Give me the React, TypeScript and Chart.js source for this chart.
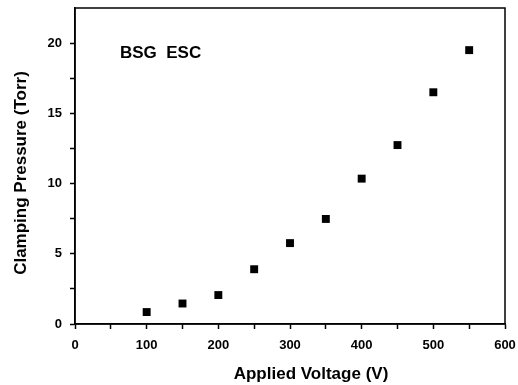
import React, { useEffect, useRef } from "react";
import { Chart, registerables } from "chart.js";

Chart.register(...registerables);

const voltages = [100, 150, 200, 250, 300, 350, 400, 450, 500, 550];
const pressures = [0.85, 1.46, 2.06, 3.9, 5.76, 7.48, 10.35, 12.74, 16.5, 19.5];
const xTickValues = [0, 50, 100, 150, 200, 250, 300, 350, 400, 450, 500, 550, 600];
const yTickValues = [0, 2.5, 5, 7.5, 10, 12.5, 15, 17.5, 20];
const annotation = "BSG  ESC";
const xTitle = "Applied Voltage (V)";
const yTitle = "Clamping Pressure (Torr)";

const FONT = "'Liberation Sans', Arial, sans-serif";

function zeroPad(scale: any) {
  scale.paddingLeft = 0;
  scale.paddingRight = 0;
  scale.paddingTop = 0;
  scale.paddingBottom = 0;
}

export default function App() {
  const ref = useRef<HTMLCanvasElement | null>(null);
  useEffect(() => {
    document.body.style.margin = "0";
    const canvas = ref.current;
    if (!canvas) return;
    const framePlugin = {
      id: "frame",
      afterDraw(chart: any) {
        const { ctx, chartArea } = chart;
        const { left, right, top, bottom } = chartArea;
        ctx.save();
        ctx.strokeStyle = "#000";
        ctx.lineWidth = 1.5;
        ctx.strokeRect(left, top, right - left, bottom - top);
        ctx.fillStyle = "#000";
        ctx.font = `bold 17px ${FONT}`;
        ctx.textBaseline = "middle";
        ctx.textAlign = "left";
        ctx.fillText(annotation, left + 45, top + 45);
        ctx.textAlign = "center";
        ctx.fillText(xTitle, (left + right) / 2 + 21, bottom + 50);
        ctx.translate(21, (top + bottom) / 2 + 7);
        ctx.rotate(-Math.PI / 2);
        ctx.fillText(yTitle, 0, 0);
        ctx.restore();
      },
    };
    const chart = new Chart(canvas, {
      type: "scatter",
      data: {
        datasets: [
          {
            data: voltages.map((v, i) => ({ x: v, y: pressures[i] })),
            pointStyle: "rect",
            pointRadius: 5.6,
            backgroundColor: "#000",
            borderColor: "#000",
            borderWidth: 0,
          },
        ],
      },
      options: {
        animation: false,
        responsive: false,
        layout: { padding: { top: 8, right: 13, left: 0, bottom: 0 } },
        plugins: { legend: { display: false }, tooltip: { enabled: false } },
        scales: {
          x: {
            type: "linear",
            min: 0,
            max: 600,
            afterBuildTicks(scale: any) {
              scale.ticks = xTickValues.map((v) => ({ value: v }));
            },
            afterFit(scale: any) {
              scale.height = 61;
              zeroPad(scale);
            },
            grid: { drawOnChartArea: false, drawTicks: true, tickLength: 5, tickWidth: 1.5, color: "#000" },
            border: { color: "#000", width: 1.5 },
            ticks: {
              autoSkip: false,
              maxRotation: 0,
              padding: 9,
              color: "#000",
              font: { family: FONT, size: 13, weight: "bold" },
              callback: (v: any) => (Number(v) % 100 === 0 ? String(v) : ""),
            },
            title: { display: false },
          },
          y: {
            type: "linear",
            min: 0,
            max: 22.5,
            afterBuildTicks(scale: any) {
              scale.ticks = yTickValues.map((v) => ({ value: v }));
            },
            afterFit(scale: any) {
              scale.width = 75;
              zeroPad(scale);
            },
            grid: { drawOnChartArea: false, drawTicks: true, tickLength: 5, tickWidth: 1.5, color: "#000" },
            border: { color: "#000", width: 1.5 },
            ticks: {
              autoSkip: false,
              padding: 8,
              color: "#000",
              font: { family: FONT, size: 13, weight: "bold" },
              callback: (v: any) => (Number(v) % 5 === 0 ? String(v) : ""),
            },
            title: { display: false },
          },
        },
      },
      plugins: [framePlugin],
    });
    return () => chart.destroy();
  }, []);
  return (
    <div style={{ width: 518, height: 385 }}>
      <canvas ref={ref} width={518} height={385} />
    </div>
  );
}
